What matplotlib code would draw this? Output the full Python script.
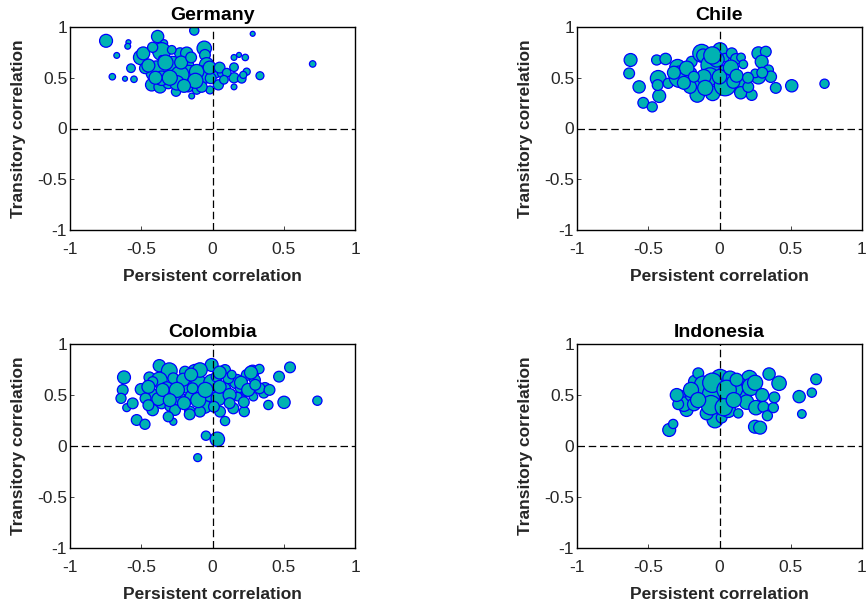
import matplotlib
matplotlib.use("Agg")
import matplotlib.pyplot as plt
import numpy as np

plt.rcParams['font.family'] = ['Liberation Sans', 'DejaVu Sans']
plt.rcParams['axes.unicode_minus'] = False

# ---------------- data ----------------
germany_x = [-0.747, -0.59, -0.595, -0.672, -0.703, -0.614, -0.551, -0.572, -0.385, -0.34,
             -0.504, -0.486, -0.357, -0.357, -0.282, -0.392, -0.228, -0.181, -0.177, -0.17,
             -0.128, -0.058, -0.053, -0.041, -0.065, 0.018, 0.041, -0.018, 0.065, -0.427,
             -0.368, -0.31, -0.256, -0.146, -0.17, -0.111, 0.151, 0.186, 0.23, 0.151,
             0.151, 0.205, 0.151, 0.24, 0.216, 0.333, 0.282, -0.357, -0.474, -0.076,
             -0.013, 0.703, -0.42, -0.286, -0.111, -0.228, -0.25,
             -0.45, -0.33, -0.22, -0.30, -0.12, -0.02, 0.05, 0.10, 0.08, -0.20, -0.40, -0.15]
germany_y = [0.864, 0.85, 0.81, 0.72, 0.51, 0.49, 0.485, 0.594, 0.906, 0.84,
             0.70, 0.74, 0.758, 0.69, 0.594, 0.56, 0.742, 0.742, 0.62, 0.495,
             0.965, 0.79, 0.725, 0.627, 0.528, 0.545, 0.43, 0.38, 0.545, 0.43,
             0.41, 0.445, 0.363, 0.32, 0.41, 0.38, 0.70, 0.725, 0.70, 0.604,
             0.50, 0.49, 0.41, 0.56, 0.528, 0.52, 0.933, 0.495, 0.594, 0.41,
             0.495, 0.636, 0.80, 0.775, 0.56, 0.528, 0.45,
             0.62, 0.65, 0.65, 0.50, 0.47, 0.60, 0.60, 0.55, 0.48, 0.42, 0.50, 0.70]
germany_w = [6, 2.3, 2.7, 2.7, 3, 2.3, 3, 4, 5.7, 3.3,
             6.7, 6, 8.3, 2.7, 11, 10, 5, 5.7, 6, 12,
             4.3, 6.7, 5, 6.7, 8.3, 4.7, 4.7, 3.7, 4, 5.7,
             5.7, 5, 4.3, 2.7, 4.7, 4, 2.7, 2.3, 3, 4,
             4.7, 4, 2.7, 3.3, 3.3, 3.7, 2.3, 6.7, 5, 5,
             5, 3, 4.7, 4, 6.7, 8.3, 6.7,
             6, 7, 6, 7, 7, 6, 5, 4, 4, 6, 6, 5]

chile_x = [-0.624, -0.634, -0.564, -0.535, -0.472, -0.441, -0.378, -0.43, -0.423, -0.434,
           -0.36, -0.294, -0.278, -0.202, -0.195, -0.125, -0.115, -0.149, -0.156, -0.048,
           -0.06, -0.067, 0.004, 0.039, 0.05, 0.039, 0.086, 0.116, 0.151, 0.167,
           0.163, 0.149, 0.226, 0.202, 0.273, 0.325, 0.296, 0.343, 0.36, 0.273,
           0.25, 0.395, 0.507, 0.737, -0.207, -0.23, -0.11, 0.0, 0.097, -0.18,
           -0.32, -0.25, -0.10, 0.08, 0.12, -0.02, 0.20, 0.30, -0.05]
chile_y = [0.675, 0.543, 0.41, 0.253, 0.213, 0.675, 0.685, 0.494, 0.32, 0.428,
           0.445, 0.603, 0.51, 0.543, 0.658, 0.741, 0.72, 0.445, 0.33, 0.346,
           0.625, 0.51, 0.774, 0.698, 0.543, 0.428, 0.741, 0.685, 0.70, 0.632,
           0.445, 0.352, 0.33, 0.41, 0.741, 0.757, 0.658, 0.576, 0.51, 0.51,
           0.543, 0.40, 0.421, 0.441, 0.41, 0.593, 0.51, 0.51, 0.46, 0.51,
           0.55, 0.45, 0.40, 0.60, 0.52, 0.68, 0.50, 0.55, 0.72]
chile_w = [6, 5, 5.7, 5, 4.7, 4.7, 5.3, 7.3, 6, 5,
           4.7, 7.3, 10, 5.7, 5, 8.3, 6, 8.3, 6.7, 6.7,
           9.3, 8.3, 6.7, 4, 8.3, 10, 5, 5, 4, 4,
           6.7, 5.7, 5, 5, 6, 5, 6, 4.7, 5.3, 6.7,
           4, 5, 5.7, 4.3, 6, 6.7, 6.7, 6.7, 6, 5,
           6, 6, 7, 7, 6, 7, 5, 5, 8]

colombia_x = [-0.621, -0.63, -0.642, -0.602, -0.56, -0.532, -0.474, -0.502, -0.443, -0.373,
              -0.303, -0.373, -0.427, -0.42, -0.321, -0.275, -0.357, -0.303, -0.275, -0.24,
              -0.263, -0.181, -0.146, -0.158, -0.123, -0.1, -0.053, -0.053, -0.088, -0.006,
              -0.006, -0.02, 0.088, 0.088, 0.088, 0.17, 0.146, 0.177, 0.23, 0.223,
              0.22, 0.282, 0.329, 0.298, 0.368, 0.36, 0.392, 0.467, 0.544, 0.502,
              0.736, -0.046, 0.034, -0.104, -0.193, -0.088, 0.029, 0.041, -0.16, -0.38,
              -0.205, 0.111, 0.135, 0.24, 0.19, 0.287, 0.33, -0.42, -0.47, -0.31,
              -0.14, 0.053, 0.01,
              -0.45, -0.35, -0.25, -0.20, -0.10, -0.05, 0.05, 0.12, 0.20, 0.25,
              0.30, -0.30, -0.45, 0.12, -0.15, 0.05, 0.27, 0.40]
colombia_y = [0.673, 0.549, 0.467, 0.376, 0.418, 0.255, 0.213, 0.556, 0.673, 0.787,
              0.738, 0.647, 0.493, 0.353, 0.566, 0.664, 0.418, 0.385, 0.238, 0.467,
              0.353, 0.582, 0.484, 0.337, 0.729, 0.631, 0.484, 0.385, 0.337, 0.794,
              0.624, 0.50, 0.745, 0.566, 0.245, 0.631, 0.369, 0.484, 0.52, 0.337,
              0.43, 0.729, 0.755, 0.647, 0.566, 0.52, 0.402, 0.68, 0.771, 0.428,
              0.444, 0.101, 0.066, -0.114, 0.729, 0.745, 0.68, 0.467, 0.31, 0.46,
              0.65, 0.664, 0.70, 0.696, 0.566, 0.484, 0.566, 0.63, 0.467, 0.287,
              0.566, 0.337, 0.385,
              0.58, 0.55, 0.55, 0.42, 0.45, 0.55, 0.58, 0.50, 0.62, 0.55,
              0.60, 0.45, 0.40, 0.42, 0.70, 0.72, 0.72, 0.55]
colombia_w = [6, 5, 4.7, 3.7, 5, 5, 4.7, 5.3, 5, 5.7,
              7.3, 7.3, 6.7, 5.3, 6, 5, 5, 4, 3.3, 6.7,
              5, 6, 6, 5, 6.7, 6.7, 6, 6, 5, 6,
              7.3, 6, 5, 5, 4.3, 6.7, 5, 4, 3.3, 4.7,
              5, 6, 4.3, 5, 5.3, 4.7, 4.3, 5, 5, 5.7,
              4.3, 4.3, 6.7, 3.7, 5, 6.7, 5, 6.7, 5, 6,
              6, 5, 4, 5, 4, 4, 5, 4.7, 5, 4.7,
              5, 5, 5,
              6, 6, 7, 6, 7, 7, 6, 6, 6, 6,
              5, 6, 5, 5, 6, 6, 6, 5]

indonesia_x = [-0.353, -0.325, -0.278, -0.231, -0.25, -0.196, -0.179, -0.172, -0.149, -0.102,
               -0.114, -0.032, -0.032, 0.015, 0.004, 0.074, 0.062, 0.062, 0.132, 0.167,
               0.16, 0.21, 0.19, 0.256, 0.308, 0.336, 0.378, 0.385, 0.348, 0.418,
               0.249, 0.285, 0.559, 0.648, 0.678, 0.578, -0.29, 0.14, 0.10, -0.09,
               -0.20, -0.05, 0.05, -0.06, 0.03, 0.22, 0.25, 0.30, -0.15, 0.10, -0.30, 0.12]
indonesia_y = [0.157, 0.216, 0.484, 0.353, 0.41, 0.50, 0.409, 0.631, 0.713, 0.50,
               0.598, 0.50, 0.255, 0.278, 0.664, 0.664, 0.467, 0.35, 0.32, 0.526,
               0.53, 0.664, 0.43, 0.376, 0.385, 0.297, 0.376, 0.477, 0.706, 0.615,
               0.189, 0.18, 0.484, 0.523, 0.654, 0.314, 0.41, 0.60, 0.56, 0.32,
               0.55, 0.62, 0.55, 0.40, 0.38, 0.58, 0.62, 0.50, 0.45, 0.45, 0.50, 0.65]
indonesia_w = [6, 4.3, 6, 6, 6.7, 6, 6, 6, 5, 6.7,
               8.3, 11.7, 7.3, 5, 8.3, 6.7, 8.3, 6.7, 4.3, 8.3,
               6.7, 7.3, 6.7, 6.7, 5, 4.7, 4.7, 5, 5.7, 6.7,
               6, 6, 5.7, 4.3, 5, 4, 5, 6.7, 8.3, 6,
               7, 9, 9, 9, 8, 8, 7, 6, 7, 7, 6, 6]

titles = ["Germany", "Chile", "Colombia", "Indonesia"]
ticks = [-1, -0.5, 0, 0.5, 1]
tick_labels = ["-1", "-0.5", "0", "0.5", "1"]

panels = [
    (germany_x, germany_y, germany_w),
    (chile_x, chile_y, chile_w),
    (colombia_x, colombia_y, colombia_w),
    (indonesia_x, indonesia_y, indonesia_w),
]

# ---------------- figure ----------------
W, H = 867, 608
fig = plt.figure(figsize=(W / 100, H / 100), dpi=100)

boxes = [  # left, top, right, bottom in pixels
    (70, 27, 355, 230),
    (577, 27, 862, 230),
    (70, 344, 355, 548),
    (577, 344, 862, 548),
]

face = '#00B2B2'
edge = '#0000FF'

for (x, y, w), title, (l, t, r, b) in zip(panels, titles, boxes):
    ax = fig.add_axes([l / W, 1 - b / H, (r - l) / W, (b - t) / H])
    sizes = (1.55 * np.asarray(w)) ** 2
    ax.scatter(x, y, s=sizes, c=face, edgecolors=edge, linewidths=0.9, zorder=2)
    ax.axhline(0, color='k', lw=0.9, ls=(0, (6, 3)), zorder=3)
    ax.axvline(0, color='k', lw=0.9, ls=(0, (6, 3)), zorder=3)
    ax.set_xlim(-1, 1)
    ax.set_ylim(-1, 1)
    ax.set_xticks(ticks)
    ax.set_xticklabels(tick_labels)
    ax.set_yticks(ticks)
    ax.set_yticklabels(tick_labels)
    ax.tick_params(direction='in', length=3, width=0.6, labelsize=12.5,
                   colors='#262626', top=False, right=False)
    ax.tick_params(axis='x', pad=9)
    ax.tick_params(axis='y', pad=2)
    for s in ax.spines.values():
        s.set_linewidth(1.0)
        s.set_color('k')
    ax.set_title(title, fontsize=14, fontweight='bold', pad=5)
    ax.set_xlabel("Persistent correlation", fontsize=12.5, fontweight='bold',
                  color='#262626', labelpad=8)
    ax.set_ylabel("Transitory correlation", fontsize=12.5, fontweight='bold',
                  color='#262626', labelpad=8)

fig.savefig("out.png", dpi=100)
